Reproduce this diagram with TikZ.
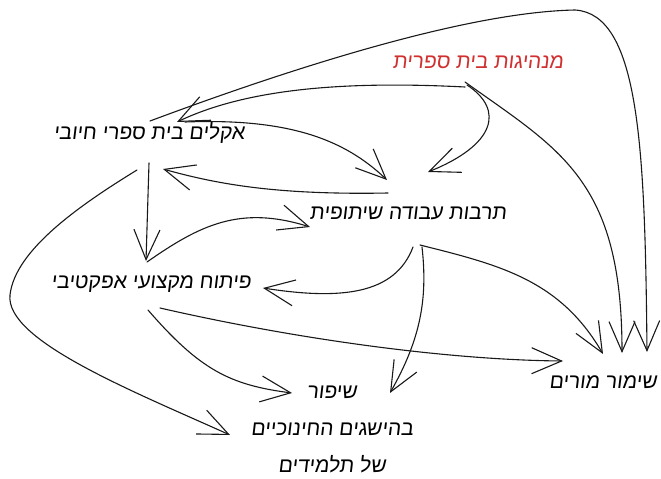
\documentclass[tikz,border=0pt]{standalone}
\usepackage{fontspec}
\setmainfont{Liberation Sans}
\newfontfamily\hebfont[Script=Hebrew,FakeSlant=0.12]{Liberation Sans}
\TeXXeTstate=1
\usetikzlibrary{arrows.meta,calc}
\definecolor{leadred}{RGB}{208,48,48}
\tikzset{
  lbl/.style={font=\hebfont\fontsize{21}{37}\selectfont, inner sep=0pt, align=center},
  conn/.style={draw=black!90, line width=1.1pt, line cap=round,
    -{Straight Barb[length=30pt,width=26pt,line width=1.1pt]}},
}
\begin{document}
\begin{tikzpicture}[x=1pt,y=-1pt]
\useasboundingbox (0,0) rectangle (661,479);
% nodes
\node[lbl, text=leadred] (lead) at (478,62) {\beginR מנהיגות בית ספרית\endR};
\node[lbl] (akl)  at (149,133) {\beginR אקלים בית ספרי חיובי\endR};
\node[lbl] (cult) at (408,213) {\beginR תרבות עבודה שיתופית\endR};
\node[lbl] (prof) at (151,284) {\beginR פיתוח מקצועי אפקטיבי\endR};
\node[lbl] (ret)  at (603,382) {\beginR שימור מורים\endR};
\node[lbl] (ach)  at (332,429) {\beginR שיפור\endR\\\beginR בהישגים החינוכיים\endR\\\beginR של תלמידים\endR};
% connectors
% leadership -> climate
\draw[conn] ($(lead)+(-13,25)$) .. controls (330,80) and (240,92) .. ($(akl)+(28,-11)$);
% climate -> retention (big arc)
\draw[conn] ($(akl)+(1,-12)$) .. controls (300,65) and (470,12) .. (575,10)
   .. controls (640,14) and (645,150) .. ($(ret)+(44,-30)$);
% leadership -> culture
\draw[conn] ($(lead)+(-11,23)$) .. controls (505,110) and (495,145) .. ($(cult)+(20,-41)$);
% leadership -> retention
\draw[conn] ($(lead)+(-13,20)$) .. controls (560,150) and (622,180) .. ($(ret)+(19,-29)$);
% climate -> culture
\draw[conn] ($(akl)+(36,-11)$) .. controls (290,118) and (345,140) .. ($(cult)+(-21,-33)$);
% culture -> climate
\draw[conn] ($(cult)+(-20,-20)$) .. controls (280,195) and (220,185) .. ($(akl)+(14,36)$);
% climate -> professional development
\draw[conn] ($(akl)+(0,30)$) -- ($(prof)+(-5,-23)$);
% professional development -> culture
\draw[conn] ($(prof)+(-4,-22)$) .. controls (200,225) and (240,205) .. ($(cult)+(-98,14)$);
% culture -> professional development
\draw[conn] ($(cult)+(5,34)$) .. controls (395,295) and (340,300) .. ($(prof)+(112,4)$);
% culture -> achievement
\draw[conn] ($(cult)+(14,34)$) .. controls (428,300) and (420,340) .. ($(ach)+(58,-36)$);
% culture -> retention
\draw[conn] ($(cult)+(12,32)$) .. controls (500,265) and (560,280) .. ($(ret)+(0,-28)$);
% professional development -> retention
\draw[conn] ($(prof)+(9,24)$) .. controls (300,340) and (450,360) .. ($(ret)+(-40,-21)$);
% professional development -> achievement
\draw[conn] ($(prof)+(-3,26)$) .. controls (200,370) and (230,385) .. ($(ach)+(-40,-36)$);
% climate -> achievement
\draw[conn] ($(akl)+(-12,37)$) .. controls (80,205) and (15,250) .. (10,295)
   .. controls (5,340) and (130,390) .. ($(ach)+(-102,6)$);
\end{tikzpicture}
\end{document}
